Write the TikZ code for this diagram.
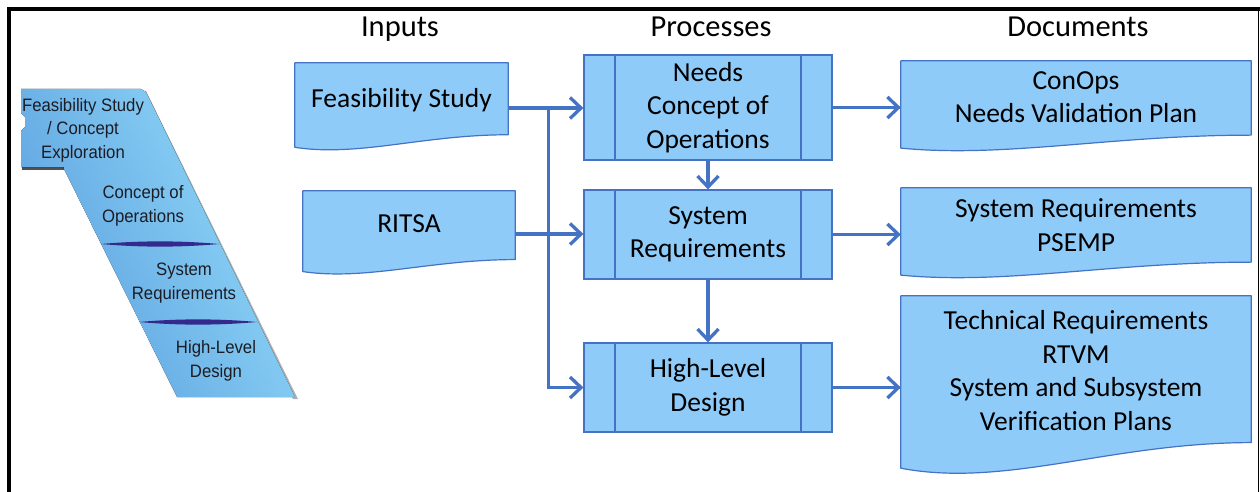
\documentclass[tikz,border=0pt]{standalone}
\usepackage{fontspec}
\setmainfont{Carlito}
\newfontfamily\vmfont[FakeStretch=0.93]{Liberation Sans}
\usetikzlibrary{arrows.meta,calc,backgrounds}

\definecolor{boxfill}{RGB}{143,203,249}
\definecolor{boxline}{RGB}{68,114,196}
\definecolor{vmid}{RGB}{92,160,222}
\definecolor{vlight}{RGB}{146,218,250}
\definecolor{vdiv}{RGB}{52,42,142}
\definecolor{vtext}{RGB}{28,28,36}

% Flowchart "document" outline behind a rectangular node
\newcommand\docshape[1]{%
  \path[docfill] let \p1=(#1.north west), \p2=(#1.south east),
      \n1={\x2-\x1}, \n2={\y2-\y1} in
    (\p1) -- (\x2,\y1) -- (\x2,{\y1+0.796*\n2})
    .. controls ({\x1+0.6*\n1},{\y1+0.796*\n2}) and ({\x1+0.3*\n1},{\y1+1.043*\n2})
    .. (\x1,{\y1+0.935*\n2}) -- cycle;}

\begin{document}
\begin{tikzpicture}[x=1pt,y=-1pt,
  docfill/.style={fill=boxfill,draw=boxline,line width=1.2pt,line join=round},
  docbox/.style={inner sep=0pt,minimum width=#1},
  bodytext/.style={font=\fontsize{27.5}{33.5}\selectfont,align=center,inner sep=0pt},
  header/.style={font=\fontsize{30.5}{36}\selectfont,anchor=base,inner sep=0pt},
  procbox/.style={draw=boxline,fill=boxfill,line width=1.2pt,inner sep=0pt,
    minimum width=248pt,
    path picture={
      \draw[boxline,line width=1.2pt]
        ([xshift=31pt]path picture bounding box.north west) -- ([xshift=31pt]path picture bounding box.south west)
        ([xshift=-31pt]path picture bounding box.north east) -- ([xshift=-31pt]path picture bounding box.south east);}},
  arr/.style={draw=boxline,line width=3.3pt,
    -{Straight Barb[length=11pt,width=21pt,line width=3.3pt]}},
  vtxt/.style={font=\vmfont\fontsize{18}{23.5}\selectfont,text=vtext,align=center,inner sep=0pt}
]
\useasboundingbox (0,0) rectangle (1260,492);

% outer frame (top, left and right sides)
\draw[line width=4pt] (9,492) -- (9,9) -- (1260,9);
\draw[line width=1.6pt] (1258.5,9) -- (1258.5,492);

% ---- slanted V-model fragment ----
\fill[black!55,opacity=0.55] (146,91) -- (298,399) -- (293,399) -- (141,91) -- cycle;
\fill[left color=vmid,right color=vlight,shading angle=116]
  (21,89) -- (141,89) -- (146,92) -- (295,397) -- (177,397) -- (63,167)
  -- (21,167) -- (21,131) -- (25,127) -- (25,117) -- (21,113) -- cycle;
\draw[black!85,line width=2.5pt,opacity=0.8] (22,168.5) -- (64,168.5);
\fill[vdiv] (101,244) .. controls (140,240.5) and (180,240.5) .. (219,244)
  .. controls (180,247.5) and (140,247.5) .. (101,244) -- cycle;
\fill[vdiv] (139,322) .. controls (178,318.5) and (218,318.5) .. (257,322)
  .. controls (218,325.5) and (178,325.5) .. (139,322) -- cycle;
\node[vtxt] (v1) at (83,130) {Feasibility Study\\/ Concept\\Exploration};
\node[vtxt] (v2) at (143,206) {Concept of\\Operations};
\node[vtxt] (v3) at (184,283) {System\\Requirements};
\node[vtxt] (v4) at (216,361) {High-Level\\Design};

% ---- column headers ----
\node[header] (hin) at (400,37) {Inputs};
\node[header] (hpr) at (711,37) {Processes};
\node[header] (hdo) at (1078,37) {Documents};

% ---- inputs ----
\node[docbox=213pt,minimum height=90pt] (fs) at (401.5,108) {};
\node[docbox=212pt,minimum height=86pt] (ritsa) at (409,234) {};
\node[bodytext] (fs-t) at ([yshift=8pt]fs.center) {Feasibility Study};
\node[bodytext] (ritsa-t) at ([yshift=10pt]ritsa.center) {RITSA};

% ---- processes ----
\node[procbox,minimum height=105pt,bodytext] (needs) at (708,107.5) {Needs\\Concept of\\Operations};
\node[procbox,minimum height=89pt,bodytext] (sysreq) at (708,234.5) {System\\Requirements};
\node[procbox,minimum height=89pt,bodytext] (hld) at (708,387.5) {High-Level\\Design};

% ---- documents ----
\node[docbox=350pt,minimum height=93pt] (conops) at (1076,107.5) {};
\node[docbox=350pt,minimum height=93pt] (psemp) at (1076,234.5) {};
\node[docbox=350pt,minimum height=184pt] (tech) at (1076,388) {};
\node[bodytext] (conops-t) at ([yshift=10.5pt]conops.center) {ConOps\\Needs Validation Plan};
\node[bodytext] (psemp-t) at ([yshift=9.5pt]psemp.center) {System Requirements\\PSEMP};
\node[bodytext] (tech-t) at ([yshift=17.5pt]tech.center)
  {Technical Requirements\\RTVM\\System and Subsystem\\Verification Plans};

% document outlines go underneath their texts
\begin{scope}[on background layer]
  \docshape{fs}
  \docshape{ritsa}
  \docshape{conops}
  \docshape{psemp}
  \docshape{tech}
\end{scope}

% ---- connectors ----
\coordinate (bus) at ($(fs.east)!0.54!(fs.east -| needs.west)$);
\draw[arr] (fs.east) -- (fs.east -| needs.west);
\draw[arr] (ritsa.east) -- (ritsa.east -| sysreq.west);
\draw[arr] ([yshift=1.6pt]bus) |- (hld.west);
\draw[arr] (needs.east) -- (needs.east -| conops.west);
\draw[arr] (sysreq.east) -- (sysreq.east -| psemp.west);
\draw[arr] (hld.east) -- (hld.east -| tech.west);
\draw[arr] (needs.south) -- (sysreq.north);
\draw[arr] (sysreq.south) -- (hld.north);
\end{tikzpicture}
\end{document}
